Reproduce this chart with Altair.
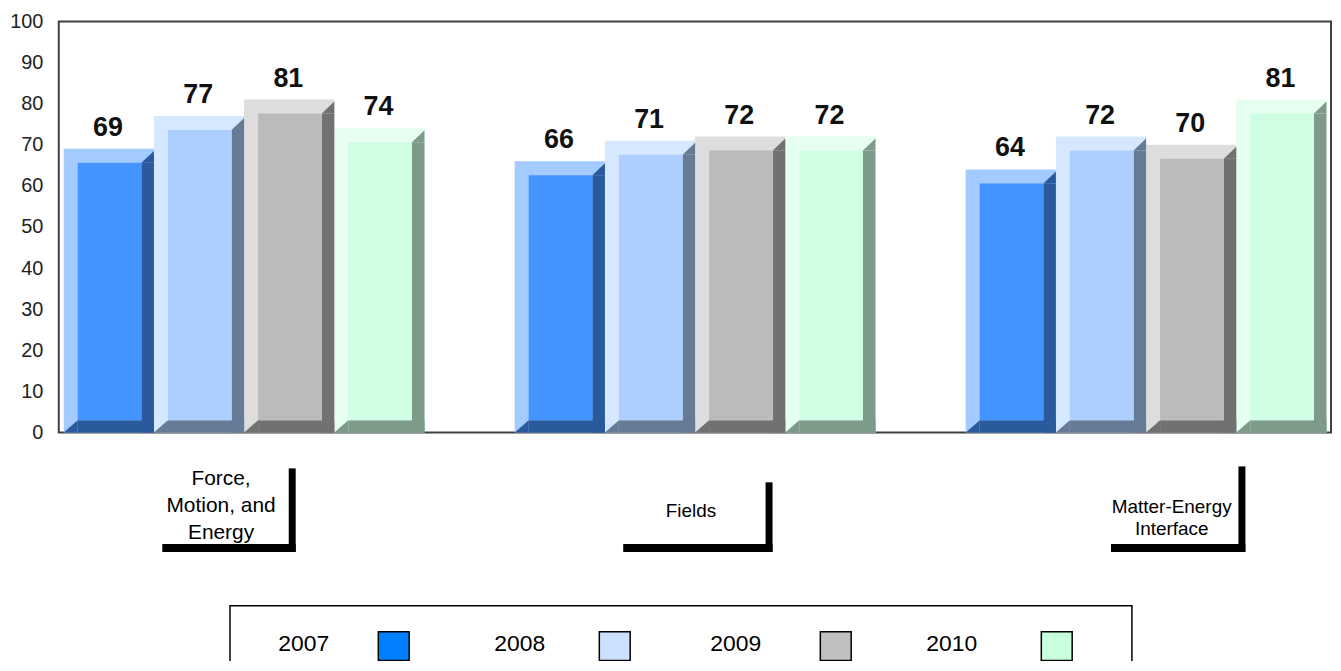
import altair as alt
import pandas as pd

# ---------------- data ----------------
categories = ["Force, Motion, and Energy", "Fields", "Matter-Energy Interface"]
category_text = ["Force,\nMotion, and\nEnergy", "Fields", "Matter-Energy\nInterface"]
years = ["2007", "2008", "2009", "2010"]
v2007 = [69, 66, 64]
v2008 = [77, 71, 72]
v2009 = [81, 72, 70]
v2010 = [74, 72, 81]
y_ticks = [0, 10, 20, 30, 40, 50, 60, 70, 80, 90, 100]

# ---------------- style ----------------
face_colors = ["#4494FF", "#ADCFFF", "#BBBBBB", "#CFFFE2"]
light_colors = ["#A3CBFF", "#D6E8FF", "#DDDDDD", "#E6FFF0"]
dark_colors = ["#2A5A9C", "#677B96", "#717171", "#7E9A89"]
legend_colors = ["#0080FF", "#CCE0FF", "#C0C0C0", "#C8FFDC"]
FONT = "Liberation Sans"

W, H = 1278, 413
SLOT_DOMAIN = [-0.055, 14.05]       # one slot = one bar width
GROUP_STEP = 5                      # 4 bars + 1 empty slot
BEV_L, BEV_R = 0.155, 0.861         # bevel fractions of the bar width
BEV_TOP, BEV_BOT, BEV_RT = 3.4, 3.0, 0.5

values = [v2007, v2008, v2009, v2010]
rows = []
for gi, cat in enumerate(categories):
    for yi, yr in enumerate(years):
        rows.append(dict(cat=cat, year=yr, value=values[yi][gi],
                         slot=gi * GROUP_STEP + yi, bar=f"{gi}-{yi}",
                         face=face_colors[yi], light=light_colors[yi],
                         dark=dark_colors[yi]))
bars = pd.DataFrame(rows)
bars["zero"] = 0.0
bars["x_end"] = bars["slot"] + 1
bars["fx1"] = bars["slot"] + BEV_L
bars["fx2"] = bars["slot"] + BEV_R
bars["fy1"] = BEV_BOT
bars["fy2"] = bars["value"] - BEV_TOP
bars["tx"] = bars["slot"] + 0.49
bars["rx1"] = bars["slot"] + BEV_R
bars["ry2"] = bars["value"] - BEV_TOP
bars["bx1"] = bars["slot"] + BEV_L
bars["by2"] = BEV_BOT

# dark bevel triangles (bottom-left and top-right corners)
tri = []
for _, r in bars.iterrows():
    s, v = r["slot"], r["value"]
    tri.append(dict(bar=r["bar"] + "a", px=s, py=0.0, base=0.0, dark=r["dark"]))
    tri.append(dict(bar=r["bar"] + "a", px=s + BEV_L, py=BEV_BOT, base=0.0, dark=r["dark"]))
    tri.append(dict(bar=r["bar"] + "b", px=s + BEV_R, py=v - BEV_TOP, base=v - BEV_TOP, dark=r["dark"]))
    tri.append(dict(bar=r["bar"] + "b", px=s + 1.0, py=v - BEV_RT, base=v - BEV_TOP, dark=r["dark"]))
tri_df = pd.DataFrame(tri)

xs = alt.Scale(domain=SLOT_DOMAIN, nice=False, zero=False)
ys = alt.Scale(domain=[0, 100], nice=False)

light = alt.Chart(bars).mark_rect().encode(
    x=alt.X("slot:Q", scale=xs, axis=None),
    x2="x_end:Q",
    y=alt.Y("zero:Q", scale=ys,
            axis=alt.Axis(values=y_ticks, ticks=False, domain=False, grid=False,
                          title=None, labelFont=FONT, labelFontSize=20,
                          labelColor="#222222", labelPadding=16)),
    y2="value:Q",
    color=alt.Color("light:N", scale=None),
)

dark_side = alt.Chart(bars).mark_rect().encode(
    x=alt.X("rx1:Q", scale=xs, axis=None), x2="x_end:Q",
    y=alt.Y("zero:Q", scale=ys, axis=None), y2="ry2:Q",
    color=alt.Color("dark:N", scale=None),
)
dark_bottom = alt.Chart(bars).mark_rect().encode(
    x=alt.X("bx1:Q", scale=xs, axis=None), x2="x_end:Q",
    y=alt.Y("zero:Q", scale=ys, axis=None), y2="by2:Q",
    color=alt.Color("dark:N", scale=None),
)
dark_tri = alt.Chart(tri_df).mark_area(interpolate="linear", opacity=1).encode(
    x=alt.X("px:Q", scale=xs, axis=None),
    y=alt.Y("py:Q", scale=ys, axis=None, stack=None),
    y2="base:Q",
    detail="bar:N",
    color=alt.Color("dark:N", scale=None),
)

face = alt.Chart(bars).mark_rect().encode(
    x=alt.X("fx1:Q", scale=xs, axis=None),
    x2="fx2:Q",
    y=alt.Y("fy1:Q", scale=ys, axis=None),
    y2="fy2:Q",
    color=alt.Color("face:N", scale=None),
)

labels = alt.Chart(bars).mark_text(
    font=FONT, fontSize=27, fontWeight="bold", color="#111111",
    baseline="alphabetic", align="center", dy=-13,
).encode(
    x=alt.X("tx:Q", scale=xs, axis=None),
    y=alt.Y("value:Q", scale=ys, axis=None),
    text="value:Q",
)

# ---------------- decorations below the plot (pixel scales) ----------------
px_x = alt.Scale(domain=[0, W], nice=False, zero=False)
px_y = alt.Scale(domain=[H, 0], nice=False, zero=False)

bracket_layout = [
    dict(vx1=231, vx2=238, vy1=449, hx1=104),
    dict(vx1=710, vx2=717, vy1=463, hx1=567),
    dict(vx1=1185, vx2=1192, vy1=447, hx1=1057),
]
brk_rows = []
for b in bracket_layout:
    brk_rows.append(dict(x1=b["vx1"], x2=b["vx2"], y1=b["vy1"], y2=533))
    brk_rows.append(dict(x1=b["hx1"], x2=b["vx2"], y1=525, y2=533))
brk = pd.DataFrame(brk_rows)
brackets = alt.Chart(brk).mark_rect(color="#000000").encode(
    x=alt.X("x1:Q", scale=px_x, axis=None), x2="x2:Q",
    y=alt.Y("y1:Q", scale=px_y, axis=None), y2="y2:Q",
)

text_layout = [
    dict(x=163, y=459.5, size=21, lh=27),
    dict(x=635, y=491.5, size=19, lh=22),
    dict(x=1118, y=487.5, size=19, lh=22),
]
cat_layers = []
for t, lay in zip(category_text, text_layout):
    df = pd.DataFrame([dict(label=t, x=lay["x"], y=lay["y"])])
    cat_layers.append(
        alt.Chart(df).mark_text(font=FONT, fontSize=lay["size"], lineHeight=lay["lh"],
                                lineBreak="\n", align="center", baseline="middle",
                                color="#000000").encode(
            x=alt.X("x:Q", scale=px_x, axis=None),
            y=alt.Y("y:Q", scale=px_y, axis=None),
            text="label:N",
        )
    )

leg = pd.DataFrame(dict(year=years, color=legend_colors, i=list(range(len(years)))))
leg["tx"] = 246 + leg["i"] * 217
leg["sx1"] = 321 + leg["i"] * 222
leg["sx2"] = leg["sx1"] + 31
leg["ty"] = 625
leg["sy1"] = 613
leg["sy2"] = 642

box_df = pd.DataFrame([dict(x1=172, x2=1078, y1=587, y2=665)])
legend_box = alt.Chart(box_df).mark_rect(fill="white", stroke="#000000", strokeWidth=1.5).encode(
    x=alt.X("x1:Q", scale=px_x, axis=None), x2="x2:Q",
    y=alt.Y("y1:Q", scale=px_y, axis=None), y2="y2:Q",
)
legend_text = alt.Chart(leg).mark_text(font=FONT, fontSize=23, align="center",
                                       baseline="middle", color="#000000").encode(
    x=alt.X("tx:Q", scale=px_x, axis=None),
    y=alt.Y("ty:Q", scale=px_y, axis=None),
    text="year:N",
)
legend_sw = alt.Chart(leg).mark_rect(stroke="#000000", strokeWidth=1.5).encode(
    x=alt.X("sx1:Q", scale=px_x, axis=None), x2="sx2:Q",
    y=alt.Y("sy1:Q", scale=px_y, axis=None), y2="sy2:Q",
    fill=alt.Fill("color:N", scale=None),
)

chart = alt.layer(
    light, dark_side, dark_bottom, dark_tri, face, labels, brackets, *cat_layers,
    legend_box, legend_text, legend_sw
).resolve_scale(
    x="independent", y="independent"
).properties(
    width=W, height=H,
    autosize=alt.AutoSizeParams(type="none"),
    padding={"left": 51, "top": 12, "right": 2, "bottom": 228},
).configure_view(
    stroke="#404040", strokeWidth=2
)

chart.save("out.html", embed_options={"renderer": "svg", "actions": False})
